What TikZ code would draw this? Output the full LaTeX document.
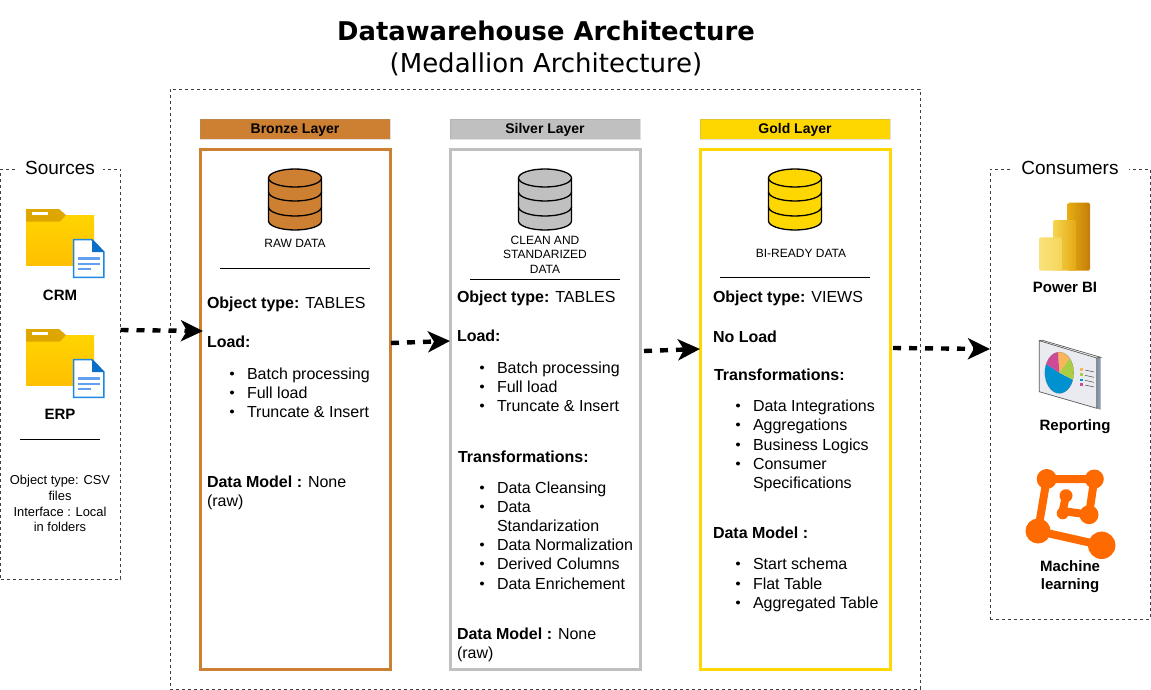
\documentclass[tikz,border=0pt]{standalone}
\usepackage{fontspec}
\setmainfont{Liberation Sans}
\newfontfamily\titlefont{DejaVu Sans}
\usetikzlibrary{arrows.meta,calc}
\definecolor{bronze}{HTML}{CD7F32}
\definecolor{silverc}{HTML}{C0C0C0}
\definecolor{goldc}{HTML}{FFD700}
\definecolor{mlorange}{HTML}{FF6A00}
\newcounter{tn}
\newcommand{\setsz}[2]{\fontsize{#1}{#2}\selectfont}
\newcommand{\tl}[3]{\stepcounter{tn}\node[txt,anchor=base west] (t\thetn) at (#1,#2) {\setsz{16}{19}#3};}
\newcommand{\bl}[3]{\fill (#1-15,#2-5.5) circle (2pt);\stepcounter{tn}\node[txt,anchor=base west] (t\thetn) at (#1,#2) {\setsz{16}{19}#3};}
\newcommand{\sm}[3]{\stepcounter{tn}\node[txt,anchor=base] (t\thetn) at (#1,#2) {\setsz{12}{14}#3};}
\newcommand{\smb}[3]{\stepcounter{tn}\node[txt,anchor=base] (t\thetn) at (#1,#2) {\setsz{12.9}{15}#3};}
\newcommand{\lab}[3]{\stepcounter{tn}\node[txt,anchor=base] (t\thetn) at (#1,#2) {\setsz{15}{17}\bfseries #3};}
\newcommand{\dbicon}[2]{%
 \begin{scope}[shift={(#1,0)}]
 \draw[line width=1.3pt,fill=#2] (-26.5,178) -- (-26.5,221) arc[start angle=180,end angle=0,x radius=26.5,y radius=9] -- (26.5,178) arc[start angle=0,end angle=-180,x radius=26.5,y radius=9] -- cycle;
 \draw[line width=1.3pt] (-26.5,178) arc[start angle=180,end angle=0,x radius=26.5,y radius=9];
 \draw[line width=1.3pt] (-26.5,192) arc[start angle=180,end angle=0,x radius=26.5,y radius=9];
 \draw[line width=1.3pt] (-26.5,207) arc[start angle=180,end angle=0,x radius=26.5,y radius=9];
 \end{scope}}
\newcommand{\foldericon}[1]{%
 \begin{scope}[shift={(0,#1)}]
 \shade[top color={rgb,255:red,255;green,212;blue,0},bottom color={rgb,255:red,255;green,192;blue,0}] (26,215) rectangle (94,265);
 \fill[color={rgb,255:red,222;green,166;blue,0}] (26,209) -- (59,209) -- (66,215) -- (60,221.5) -- (26,221.5) -- cycle;
 \fill[white] (32,212) rectangle (48,215);
 \fill[white] (73,239) -- (92,239) -- (104.5,252) -- (104.5,278) -- (73,278) -- cycle;
 \draw[line width=1.5pt,color={rgb,255:red,30;green,136;blue,229}] (73.7,239.7) -- (92,239.7) -- (103.8,252) -- (103.8,277.3) -- (73.7,277.3) -- cycle;
 \fill[color={rgb,255:red,13;green,110;blue,200}] (92,239) -- (104.5,252) -- (92,252) -- cycle;
 \draw[line width=2.2pt,color={rgb,255:red,100;green,160;blue,240}] (78,258.5) -- (100,258.5) (78,264) -- (100,264) (78,269) -- (91,269);
 \end{scope}}
\tikzset{
 txt/.style={inner sep=0pt,outer sep=0pt,text=black},
 groupbox/.style={draw=black!75,line width=0.8pt,dash pattern=on 3pt off 3pt,inner sep=0pt,outer sep=0pt},
 layerbox/.style={line width=3pt,inner sep=0pt,outer sep=0pt,minimum width=190pt,minimum height=519pt,fill=white},
 headbox/.style={draw=white!60!black,draw opacity=0.3,inner sep=0pt,outer sep=0pt,minimum width=190pt,minimum height=20pt},
 headtext/.style={txt,font=\setsz{14}{16}\bfseries},
 grouptitle/.style={fill=white,inner sep=0pt,outer sep=0pt,font=\setsz{19}{21},minimum height=16pt},
 flow/.style={line width=4.4pt,dash pattern=on 8pt off 8pt,-{Stealth[length=22pt,width=21pt,inset=6pt]},black},
 sep/.style={line width=1pt,black}
}
\begin{document}
\begin{tikzpicture}[x=1pt,y=-1pt]
\useasboundingbox (0,0) rectangle (1151,690);
\fill[white] (0,0) rectangle (1151,690);
% title
\node[txt,font={\titlefont\bfseries\setsz{25.8}{30}}] (title) at (546,31) {Datawarehouse Architecture};
\node[txt,font={\titlefont\setsz{26}{30}}] (subtitle) at (546,64) {(Medallion Architecture)};
% group boxes
\node[groupbox,minimum width=750pt,minimum height=600pt] (mainbox) at (545,389) {};
\node[groupbox,minimum width=120pt,minimum height=410pt] (srcbox) at (60.5,374) {};
\node[groupbox,minimum width=160pt,minimum height=450pt] (conbox) at (1070,394) {};
\node[grouptitle,minimum width=86pt] (srctitle) at (60,168) {Sources};
\node[grouptitle,minimum width=118pt] (contitle) at (1070,168) {Consumers};
% layers
\node[layerbox,draw=bronze] (bbox) at (295,409.5) {};
\node[layerbox,draw=silverc] (sbox) at (545,409.5) {};
\node[layerbox,draw=goldc] (gbox) at (795,409.5) {};
\node[headbox,fill=bronze] (bhead) at (295,129) {};
\node[headbox,fill=silverc] (shead) at (545,129) {};
\node[headbox,fill=goldc] (ghead) at (795,129) {};
\node[headtext,anchor=base] (bheadt) at (295,134) {Bronze Layer};
\node[headtext,anchor=base] (sheadt) at (545,134) {Silver Layer};
\node[headtext,anchor=base] (gheadt) at (795,134) {Gold Layer};
% cylinders
\dbicon{295}{bronze}
\dbicon{545}{silverc}
\dbicon{795}{goldc}
\sm{295}{247}{RAW DATA}
\sm{545}{244}{CLEAN AND}
\sm{545}{258}{STANDARIZED}
\sm{545}{273}{DATA}
\sm{801}{257}{BI-READY DATA}
\coordinate (l1a) at (220,268); \coordinate (l1b) at (370,268);
\coordinate (l2a) at (470,279); \coordinate (l2b) at (620,279);
\coordinate (l3a) at (720,277); \coordinate (l3b) at (870,277);
\coordinate (l4a) at (20,439);  \coordinate (l4b) at (100,439);
\draw[sep] (l1a) -- (l1b);
\draw[sep] (l2a) -- (l2b);
\draw[sep] (l3a) -- (l3b);
\draw[sep] (l4a) -- (l4b);
% bronze text
\tl{207}{308.5}{\textbf{Object type:} TABLES}
\tl{207}{347.5}{\textbf{Load:}}
\bl{247}{379}{Batch processing}
\bl{247}{398}{Full load}
\bl{247}{417}{Truncate \& Insert}
\tl{207}{487}{\textbf{Data Model :} None}
\tl{207}{506}{(raw)}
% silver text
\tl{457}{302.5}{\textbf{Object type:} TABLES}
\tl{457}{341.5}{\textbf{Load:}}
\bl{497}{373}{Batch processing}
\bl{497}{392}{Full load}
\bl{497}{411}{Truncate \& Insert}
\tl{458}{462}{\textbf{Transformations:}}
\bl{497}{493}{Data Cleansing}
\bl{497}{512}{Data}
\tl{497}{531}{Standarization}
\bl{497}{550}{Data Normalization}
\bl{497}{569}{Derived Columns}
\bl{497}{589}{Data Enrichement}
\tl{457}{639}{\textbf{Data Model :} None}
\tl{457}{658}{(raw)}
% gold text
\tl{713}{302.5}{\textbf{Object type:} VIEWS}
\tl{713}{342}{\textbf{No Load}}
\tl{714}{380}{\textbf{Transformations:}}
\bl{753}{411}{Data Integrations}
\bl{753}{430}{Aggregations}
\bl{753}{450}{Business Logics}
\bl{753}{469}{Consumer}
\tl{753}{488}{Specifications}
\tl{713}{538}{\textbf{Data Model :}}
\bl{753}{569}{Start schema}
\bl{753}{589}{Flat Table}
\bl{753}{608}{Aggregated Table}
% sources
\foldericon{0}
\foldericon{120}
\lab{60}{300}{CRM}
\lab{60}{419}{ERP}
\smb{60}{484.5}{Object type: CSV}
\smb{60}{500.5}{files}
\smb{60}{516.5}{Interface : Local}
\smb{60}{531.5}{in folders}
% Power BI
\shade[rounded corners=1.5pt,left color={rgb,255:red,230;green,173;blue,16},right color={rgb,255:red,196;green,125;blue,10}] (1067.7,202.7) rectangle (1090,270.7);
\shade[rounded corners=1.5pt,left color={rgb,255:red,246;green,213;blue,80},right color={rgb,255:red,228;green,168;blue,20}] (1053,220) rectangle (1076,270.7);
\shade[rounded corners=1.5pt,left color={rgb,255:red,249;green,226;blue,125},right color={rgb,255:red,246;green,214;blue,90}] (1039,237.3) rectangle (1061.7,270.7);
\lab{1065}{292}{Power BI}
% Reporting
\fill[color={rgb,255:red,140;green,150;blue,170}] (1096.7,358) -- (1100.7,357.3) -- (1100.7,409.8) -- (1096.7,408.3) -- cycle;
\draw[line width=0.7pt,fill={rgb,255:red,233;green,235;blue,240},draw=black!65] (1039.3,340.7) -- (1096.7,358) -- (1096.7,408.3) -- (1039.3,391.7) -- cycle;
\draw[line width=0.7pt,draw=black!65] (1039.3,340.7) -- (1042,340.2) -- (1100.7,357.3) -- (1096.7,358);
\begin{scope}[shift={(1059.3,372.7)},xscale=14.5,yscale=20.7,y=1pt,x=1pt]
 \fill[color={rgb,255:red,0;green,146;blue,208}] (0,0) -- (-20:1pt) arc[start angle=-20,end angle=-205,radius=1pt] -- cycle;
 \fill[color={rgb,255:red,170;green,205;blue,70}] (0,0) -- (45:1pt) arc[start angle=45,end angle=-20,radius=1pt] -- cycle;
 \fill[color={rgb,255:red,250;green,180;blue,90}] (0,0) -- (95:1pt) arc[start angle=95,end angle=45,radius=1pt] -- cycle;
 \fill[color={rgb,255:red,205;green,75;blue,150}] (0,0) -- (155:1pt) arc[start angle=155,end angle=95,radius=1pt] -- cycle;
 \draw[line width=0.05pt,draw=black!60] (0,0) circle (1pt);
\end{scope}
\fill[color={rgb,255:red,250;green,180;blue,90}] (1080,368) rectangle (1082.7,370.7);
\fill[color={rgb,255:red,170;green,205;blue,70}] (1080,373.3) rectangle (1082.7,376);
\fill[color={rgb,255:red,0;green,146;blue,208}] (1080,378.6) rectangle (1082.7,381.3);
\fill[color={rgb,255:red,205;green,75;blue,150}] (1080,383.3) rectangle (1082.7,386);
\draw[line width=0.5pt,black!70] (1085,370) -- (1094,372) (1085,375.3) -- (1094,377.3) (1085,380.3) -- (1094,382.3) (1085,385) -- (1094,387);
\lab{1075}{430}{Reporting}
% Machine learning
\draw[color=mlorange,line width=8pt,line join=round] (1038,531) -- (1046.7,479) -- (1094.3,479) -- (1089,514.7) -- (1062.7,511) -- (1066,495.7);
\draw[color=mlorange,line width=8pt] (1038,531) -- (1101.7,545.3);
\fill[mlorange] (1046.7,479) circle (10pt) (1094.3,479) circle (9.5pt) (1089,514.7) circle (9.5pt) (1038,531) circle (12.5pt) (1101.7,545.3) circle (13.7pt) (1066,495.7) circle (6.5pt) (1062.7,513.3) circle (6pt);
\lab{1070}{571}{Machine}
\lab{1070}{589}{learning}
% flows
\draw[flow] ([yshift=44pt]srcbox.east) -- ([xshift=3pt,yshift=78.5pt]bbox.west);
\draw[flow] ([xshift=1pt,yshift=66.5pt]bbox.east) -- ([yshift=68.5pt]sbox.west);
\draw[flow] ([xshift=4pt,yshift=58.5pt]sbox.east) -- ([yshift=60.5pt]gbox.west);
\draw[flow] ([xshift=3pt,yshift=61.5pt]gbox.east) -- ([yshift=45pt]conbox.west);
\end{tikzpicture}
\end{document}
